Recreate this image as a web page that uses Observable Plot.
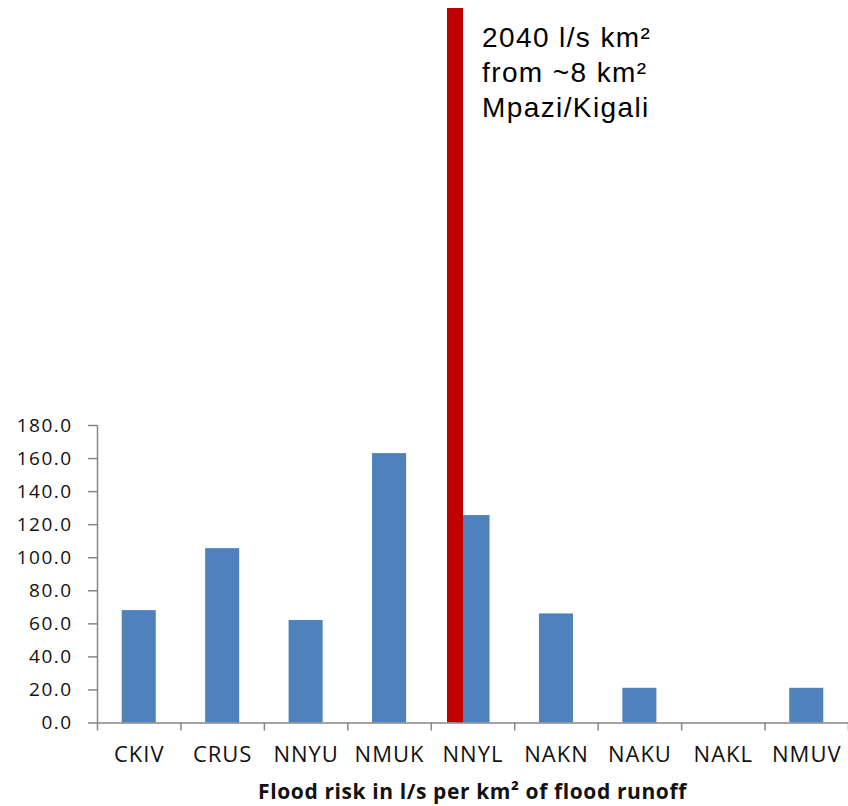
<!DOCTYPE html>
<html>
<head>
<meta charset="utf-8">
<script src="https://cdn.jsdelivr.net/npm/d3@7"></script>
<script src="https://cdn.jsdelivr.net/npm/@observablehq/plot@0.6"></script>
<style>
  html, body { margin: 0; padding: 0; background: #fff; }
  body { padding-top: 8px; width: 848px; height: 798px; position: relative; overflow: hidden; }
  #chart svg { overflow: hidden !important; display: block; }
  #chart g[aria-label="y-axis tick label"] text { letter-spacing: 1.5px; }
  #chart g[aria-label="x-axis tick label"] text { letter-spacing: 1px; }
  #chart g[aria-label="text"] text { letter-spacing: 1.4px; }
  #title {
    position: absolute; left: 97px; width: 751px; top: 777px;
    text-align: center; font-family: "Open Sans", sans-serif; font-weight: 700;
    font-size: 21px; letter-spacing: 0.6px; line-height: normal; color: #111;
  }
</style>
</head>
<body>
<div id="chart"></div>
<div id="title"></div>
<script>
// ---- data ----
const categories = ["CKIV", "CRUS", "NNYU", "NMUK", "NNYL", "NAKN", "NAKU", "NAKL", "NMUV"];
const values = [68, 105.5, 62, 163, 125.5, 66, 21, 0, 21];
const yTicks = [0, 20, 40, 60, 80, 100, 120, 140, 160, 180];
const highlightCategory = "NNYL";
const highlightValue = 2040;
const annotationLines = ["2040 l/s km²", "from ~8 km²", "Mpazi/Kigali"];
const xTitle = "Flood risk in l/s per km² of flood runoff";

// ---- tables ----
const table = categories.map((c, i) => ({category: c, i, value: values[i]}));
const hiIndex = categories.indexOf(highlightCategory);
const highlight = [{i: hiIndex, value: highlightValue, label: annotationLines.join("\n")}];
const boundaries = d3.range(categories.length + 1);
const centers = categories.map((c, i) => i + 0.5);

const axisGray = "#868686";

const chart = Plot.plot({
  width: 848,
  height: 763,
  marginTop: 417,
  marginBottom: 48.5,
  marginLeft: 97,
  marginRight: 0,
  style: {fontFamily: "'Open Sans', sans-serif", background: "#fff"},
  x: {type: "linear", domain: [0, categories.length], axis: null},
  y: {domain: [0, 180], axis: null},
  marks: [
    Plot.rectY(table, {
      x1: d => d.i, x2: d => d.i + 1, y1: 0, y2: "value",
      insetLeft: 24.7, insetRight: 24.7, fill: "#4F81BD"
    }),
    Plot.rectY(highlight, {
      x1: d => d.i, x2: d => d.i + 1, y1: 0, y2: "value",
      insetLeft: 16.2, insetRight: 51.2, fill: "#C00000"
    }),
    Plot.ruleY([0], {stroke: axisGray, strokeWidth: 1.5}),
    Plot.ruleX([0], {stroke: axisGray, strokeWidth: 1.5}),
    Plot.axisY({
      ticks: yTicks, tickSize: 9, tickPadding: 15.8, label: null,
      tickFormat: d => d.toFixed(1),
      stroke: axisGray, strokeWidth: 1.5, fill: "#111", fontSize: 19
    }),
    Plot.axisX({
      ticks: boundaries, tickSize: 8, tickFormat: () => "", label: null,
      stroke: axisGray, strokeWidth: 1.5
    }),
    Plot.axisX({
      ticks: centers, tickSize: 0, tickPadding: 23, label: null,
      tickFormat: d => categories[Math.floor(d)],
      fill: "#111", fontSize: 22
    }),
    Plot.text(highlight, {
      x: d => d.i, text: "label", frameAnchor: "top",
      dx: 50.7, dy: -403, textAnchor: "start", lineAnchor: "top",
      lineHeight: 1.25, fontSize: 28, fill: "#000",
      fontFamily: "'Liberation Sans', Arial, sans-serif"
    })
  ]
});
document.getElementById("chart").appendChild(chart);
document.getElementById("title").textContent = xTitle;
</script>
</body>
</html>
